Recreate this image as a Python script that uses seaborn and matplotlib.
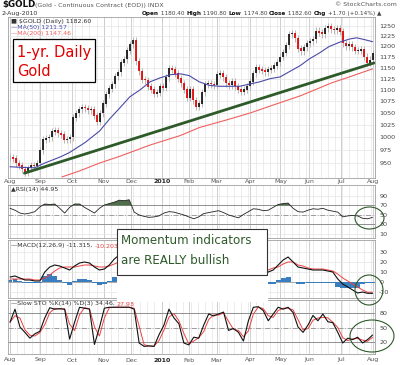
import numpy as np
import pandas as pd
import matplotlib
matplotlib.use("Agg")
import matplotlib.pyplot as plt
import seaborn as sns
from matplotlib.patches import Rectangle, Ellipse
from matplotlib.ticker import FixedLocator, NullLocator, FixedFormatter

# ---------------- data ----------------
# trading-day index of month starts (Aug-2009 .. Aug-2010)
month_days = [0, 21, 43, 65, 84, 105, 124, 143, 166, 187, 207, 229, 251]
month_labels = ["Aug", "Sep", "Oct", "Nov", "Dec", "2010", "Feb", "Mar", "Apr", "May", "Jun", "Jul", "Aug"]

# closes, sampled about every second trading day
close = [961, 958, 950, 945, 938, 932, 940, 946, 944, 950, 975, 995, 998, 1000, 1012, 1015,
         1008, 1005, 995, 996, 1000, 1040, 1050, 1058, 1062, 1060, 1056, 1058, 1045, 1032, 1050,
         1070, 1090, 1103, 1112, 1130, 1140, 1162, 1170, 1190, 1205, 1215, 1165, 1142, 1123,
         1121, 1107, 1100, 1092, 1094, 1107, 1105, 1128, 1148, 1145, 1136, 1125, 1115, 1100,
         1083, 1100, 1077, 1063, 1070, 1095, 1112, 1115, 1112, 1110, 1134, 1136, 1128, 1115,
         1110, 1118, 1108, 1100, 1096, 1100, 1108, 1118, 1137, 1150, 1145, 1143, 1140, 1145,
         1148, 1155, 1163, 1175, 1185, 1203, 1230, 1232, 1220, 1195, 1188, 1198, 1208, 1213,
         1218, 1238, 1234, 1230, 1245, 1248, 1242, 1240, 1245, 1236, 1208, 1200, 1206, 1198,
         1190, 1190, 1192, 1175, 1162, 1168, 1182.6]

ma50_day = [0, 7, 17, 24, 35, 41, 52, 62, 69, 76, 83, 90, 97, 104, 111, 118, 124, 131, 138, 145,
            152, 159, 166, 173, 180, 187, 194, 201, 207, 214, 221, 228, 235, 240, 245, 251]
ma50_val = [943, 942, 941, 950, 962, 970, 990, 1013, 1038, 1061, 1085, 1100, 1118, 1127, 1134,
            1136, 1132, 1118, 1110, 1108, 1108, 1108, 1113, 1118, 1125, 1129, 1142, 1155, 1170,
            1184, 1200, 1210, 1218, 1221, 1217, 1211.57]

ma200_day = [36, 48, 62, 76, 97, 118, 131, 149, 166, 183, 201, 223, 235, 251]
ma200_val = [924, 935, 950, 963, 985, 1004, 1020, 1035, 1050, 1068, 1087, 1116, 1129, 1147.46]

trend_day = [10, 252]
trend_val = [931, 1161]

rsi = [64, 60, 54, 52, 54, 57, 67, 73, 72, 73, 64, 54, 66, 73, 73, 66, 60, 54, 64, 71, 74, 77,
       81, 80, 82, 56, 50, 47, 45, 46, 48, 54, 57, 56, 53, 50, 46, 42, 46, 53, 55, 57, 59, 55,
       50, 47, 44, 51, 57, 63, 62, 59, 60, 66, 72, 74, 75, 64, 57, 56, 60, 63, 62, 64, 60, 58,
       56, 46, 48, 49, 48, 43, 42, 44.95]

nan = np.nan
macd = [5, 6, 4, 2, 2, 1, 1, 10, 15, 17, 16, 14, 12, 16, 19, 20, 19, 15, 12, 13, 17, 23, 27,
        nan, nan, nan, nan, nan, nan, nan, nan, nan, nan, nan, nan, nan, nan, nan, nan, nan,
        nan, nan, nan, nan, nan, nan, nan, nan, nan, nan, 7, 9, 10, 12, 17, 22, 25, 20, 15, 14,
        13, 12, 12, 12, 11, 10, 3, -2, -5, -8, -11, -10, -11.315, -11.315]
signal = [3, 3, 3, 3, 3, 2, 2, 4, 7, 11, 14, 15, 15, 15, 16, 17, 17, 16, 15, 15, 16, 18, 20,
          nan, nan, nan, nan, nan, nan, nan, nan, nan, nan, nan, nan, nan, nan, nan, nan, nan,
          nan, nan, nan, nan, nan, nan, nan, nan, nan, nan, 10, 11, 12, 14, 15, 18, 20, 20, 17,
          16, 14, 13, 13, 13, 12, 11, 8, 4, 1, -2, -5, -8, -10.2, -10.2]

sto_k = [61, 88, 51, 40, 28, 37, 42, 70, 91, 88, 89, 88, 26, 61, 92, 90, 88, 15, 50, 90, 92, 92,
         92, 92, 92, 88, 18, 11, 12, 11, 35, 55, 88, 70, 58, 18, 14, 30, 28, 55, 78, 74, 78, 82,
         44, 48, 40, 22, 64, 92, 93, 85, 64, 78, 92, 88, 92, 81, 51, 40, 55, 75, 64, 78, 62, 60,
         40, 18, 28, 25, 30, 18, 25, 34.46]

# ---------------- figure ----------------
sns.set_theme(style="white")
plt.rcParams['font.family'] = ['DejaVu Sans']
W, H = 400, 365
fig = plt.figure(figsize=(W / 100, H / 100), dpi=100)
fig.patch.set_facecolor("white")
renderer = fig.canvas.get_renderer()


def add_ax(l, t, r, b):
    return fig.add_axes([l / W, 1 - b / H, (r - l) / W, (b - t) / H])


def ftxt(x, y, s, **kw):
    kw.setdefault("va", "center")
    return fig.text(x / W, 1 - y / H, s, **kw)


def seq_text(x, y, parts, fs):
    """Draw consecutive text segments; parts = (text, color, weight). Returns end x (px)."""
    for txt, col, wt in parts:
        t = ftxt(x, y, txt, fontsize=fs, color=col, fontweight=wt)
        x = t.get_window_extent(renderer=renderer).x1
    return x


XL = (-1.4, 252.7)
GRID_MINOR = "#e4e4e4"
GRID_MAJOR = "#c8c8c8"
FRAME = "#a0a0a0"
TICK_FS = 4.6
LBL_FS = 4.5


def base_axes(ax, ylim, yticks, ytick_labels=None):
    ax.set_xlim(*XL)
    ax.set_ylim(*ylim)
    ax.set_facecolor("white")
    for s in ax.spines.values():
        s.set_color(FRAME)
        s.set_linewidth(0.6)
    for d in range(0, 252, 5):
        ax.axvline(d, color=GRID_MINOR, lw=0.5, zorder=0)
    for d in month_days:
        ax.axvline(d, color=GRID_MAJOR, lw=0.6, zorder=0)
    for v in yticks:
        ax.axhline(v, color=GRID_MINOR, lw=0.5, zorder=0)
    ax.yaxis.tick_right()
    ax.yaxis.set_major_locator(FixedLocator(yticks))
    ax.yaxis.set_minor_locator(NullLocator())
    ax.yaxis.set_major_formatter(FixedFormatter(ytick_labels or [str(v) for v in yticks]))
    ax.tick_params(axis="y", length=0, pad=3, labelsize=TICK_FS, labelcolor="#444444")
    ax.set_xticks([])


def clean(ax):
    ax.set_xlim(*XL)
    ax.set_xlabel("")
    ax.set_ylabel("")


# ---- main price panel ----
ax = add_ax(8, 17, 375, 178)
ax.set_yscale("log")
pt = list(range(950, 1251, 25))
base_axes(ax, (922, 1273), pt)

c = np.array(close, dtype=float)
days = np.linspace(0, 251, len(c))
o = np.r_[c[0], c[:-1]]
lo = np.minimum(o, c)
hi = np.maximum(o, c)
ax.vlines(days, lo * 0.993, hi * 1.007, color="#b0a8a8", lw=0.6, zorder=2)
upm = c >= o
ax.vlines(days[upm], lo[upm], hi[upm] + 1.0, color="#111111", lw=1.25, zorder=3)
ax.vlines(days[~upm], lo[~upm], hi[~upm] + 1.0, color="#e00000", lw=1.25, zorder=3)

sns.lineplot(x=ma50_day, y=ma50_val, ax=ax, color="#4a4aa8", lw=0.8, zorder=4)
sns.lineplot(x=ma200_day, y=ma200_val, ax=ax, color="#f06060", lw=0.8, zorder=4)
sns.lineplot(x=trend_day, y=trend_val, ax=ax, color="#2e5a2a", lw=2.0, zorder=5)
clean(ax)

# legend text in price panel
ftxt(11, 21.5, "\u25a0 $GOLD (Daily) 1182.60", fontsize=LBL_FS, color="#333333")
ftxt(11, 27.5, "\u2014MA(50) 1211.57", fontsize=LBL_FS, color="#4a4aa8")
ftxt(11, 33.5, "\u2014MA(200) 1147.46", fontsize=LBL_FS, color="#f06060")

# ---- indicator x grid ----
ind_days = np.linspace(0, 251, len(rsi))

# ---- RSI ----
axr = add_ax(8, 185, 375, 238)
base_axes(axr, (1.6, 113), [10, 30, 50, 70, 90])
axr.axhline(70, color="#909090", lw=0.7, zorder=1)
axr.axhline(30, color="#909090", lw=0.7, zorder=1)
axr.axhline(50, color="#909090", lw=0.6, ls=(0, (6, 2, 1, 2)), zorder=1)
r = np.array(rsi, dtype=float)
axr.fill_between(ind_days, 70, r, where=r > 70, interpolate=True, color="#4f6e4a", lw=0, zorder=2)
sns.lineplot(x=ind_days, y=r, ax=axr, color="#222222", lw=0.6, zorder=3)
clean(axr)
ftxt(11, 190, "\u25b2RSI(14) 44.95", fontsize=LBL_FS, color="#333333")

# ---- MACD ----
axm = add_ax(8, 240, 375, 298)
base_axes(axm, (-16, 42), [-10, 0, 10, 20, 30])
axm.axhline(0, color="#a0a0a0", lw=0.6, zorder=1)
m = np.array(macd, dtype=float)
s = np.array(signal, dtype=float)
hist = m - s
axm.bar(ind_days, hist, width=3.4, color="#3a7ec0", lw=0, zorder=2)
sns.lineplot(x=ind_days, y=s, ax=axm, color="#f04040", lw=0.7, zorder=3)
sns.lineplot(x=ind_days, y=m, ax=axm, color="#111111", lw=0.8, zorder=4)
clean(axm)
seq_text(11, 246, [("\u2014MACD(12,26,9) -11.315, ", "#333333", "normal"),
                   ("-10.203", "#f04040", "normal")], LBL_FS)

# ---- Slow STO ----
axs = add_ax(8, 300, 375, 354)
base_axes(axs, (-4.8, 107), [20, 50, 80], ["20", "50", "80"])
axs.axhline(80, color="#909090", lw=0.7, zorder=1)
axs.axhline(20, color="#909090", lw=0.7, zorder=1)
axs.axhline(50, color="#909090", lw=0.6, ls=(0, (6, 2, 1, 2)), zorder=1)
k = pd.Series(sto_k, dtype=float)
d = k.rolling(2, min_periods=1).mean()
sns.lineplot(x=ind_days, y=d.values, ax=axs, color="#f04040", lw=0.7, zorder=2)
sns.lineplot(x=ind_days, y=k.values, ax=axs, color="#111111", lw=0.8, zorder=3)
clean(axs)
seq_text(11, 304, [("\u2014Slow STO %K(14) %D(3) 34.46, ", "#333333", "normal"),
                   ("27.93", "#f04040", "normal")], LBL_FS)

# ---- month labels ----
for yy in (181, 360):
    for dd, lab in zip(month_days, month_labels):
        xp = 10 + dd * 363 / 251
        ftxt(xp, yy, lab, fontsize=LBL_FS, ha="center",
             color="#222222" if lab == "2010" else "#555555",
             fontweight="bold" if lab == "2010" else "normal")

# ---- header ----
ftxt(2, 5, "$GOLD", fontsize=6.3, fontweight="bold", color="#111111")
ftxt(35, 5, "(Gold - Continuous Contract (EOD)) INDX", fontsize=LBL_FS, color="#555555")
ftxt(397, 5, "\u00a9 StockCharts.com", fontsize=LBL_FS, color="#555555", ha="right")
ftxt(2, 13.5, "2-Aug-2010", fontsize=LBL_FS, color="#333333")
B, N = ("#111111", "bold"), ("#444444", "normal")
hdr = [("Open", *B), (" 1180.40 ", *N), ("High", *B), (" 1190.80 ", *N),
       ("Low", *B), (" 1174.80 ", *N), ("Close", *B), (" 1182.60 ", *N),
       ("Chg", *B), (" +1.70 (+0.14%) \u25b2", *N)]
# choose a size that fits the header between x=142 and x=397
fs = 4.5
probe = fig.text(0, 0, "".join(p[0] for p in hdr), fontsize=fs, fontweight="bold")
wid = probe.get_window_extent(renderer=renderer).width
probe.remove()
fs = fs * min(1.0, 252 / wid)
seq_text(142, 13.5, hdr, fs)

# ---- annotations ----
fig.patches.append(Rectangle((13 / W, 1 - 82 / H), 82 / W, 43 / H, transform=fig.transFigure,
                             facecolor="white", edgecolor="black", lw=0.9, zorder=20))
ftxt(54, 52, "1-yr. Daily", fontsize=10.5, color="#e00000", ha="center", zorder=21)
ftxt(17, 71, "Gold", fontsize=10.5, color="#e00000", ha="left", zorder=21)

fig.patches.append(Rectangle((117 / W, 1 - 302 / H), 151 / W, 73 / H, transform=fig.transFigure,
                             facecolor="white", edgecolor="none", zorder=20))
fig.patches.append(Rectangle((117 / W, 1 - 275 / H), 150 / W, 46 / H, transform=fig.transFigure,
                             facecolor="white", edgecolor="#333333", lw=0.8, zorder=21))
ftxt(121, 241, "Momentum indicators", fontsize=8.6, color="#2e5a2a", ha="left", zorder=22)
ftxt(121, 261, "are REALLY bullish", fontsize=8.6, color="#2e5a2a", ha="left", zorder=22)

for cx, cy, w, h in [(369.5, 218, 29, 22), (369, 290, 28, 30), (372, 336, 44, 32)]:
    fig.patches.append(Ellipse((cx / W, 1 - cy / H), w / W, h / H, transform=fig.transFigure,
                               facecolor="none", edgecolor="#2e5a2a", lw=0.8, zorder=23))

fig.savefig("out.png", dpi=100, facecolor="white")
